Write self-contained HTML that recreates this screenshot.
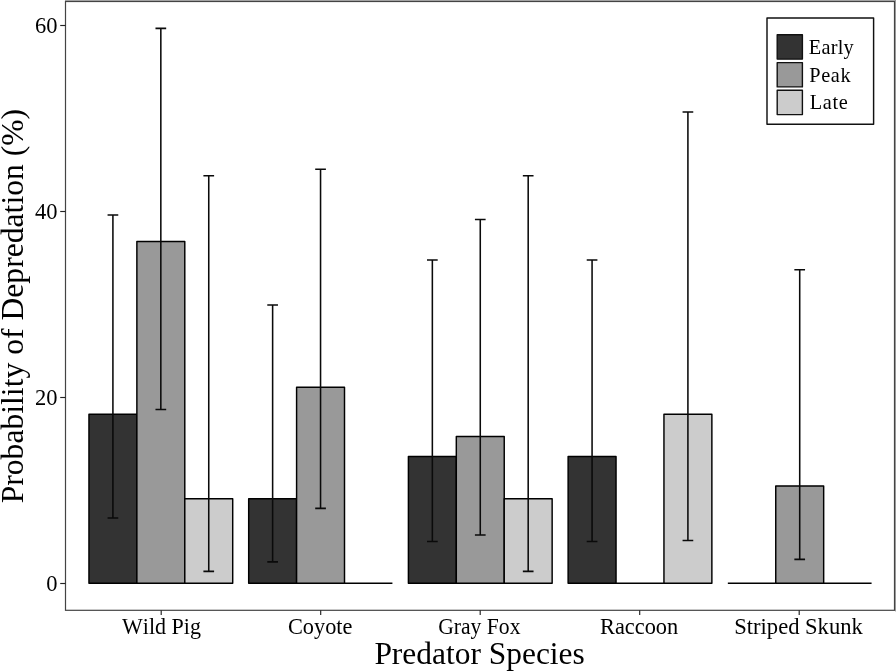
<!DOCTYPE html>
<html><head><meta charset="utf-8"><title>Probability of Depredation</title>
<style>
html,body{margin:0;padding:0;background:#fff;}
body{width:896px;height:671px;overflow:hidden;font-family:"Liberation Serif",serif;}
svg{display:block;will-change:transform;}
text{font-family:"Liberation Serif",serif;fill:#000;font-kerning:none;font-variant-ligatures:none;}
</style></head><body>
<svg width="896" height="671" viewBox="0 0 896 671">
<rect x="0" y="0" width="896" height="671" fill="#ffffff"/>

<rect x="88.96" y="414.21" width="47.92" height="169.09" fill="#333333" stroke="#000" stroke-width="1.45" stroke-linejoin="round"/>
<rect x="136.87" y="241.57" width="47.92" height="341.73" fill="#999999" stroke="#000" stroke-width="1.45" stroke-linejoin="round"/>
<rect x="184.79" y="498.75" width="47.92" height="84.55" fill="#cccccc" stroke="#000" stroke-width="1.45" stroke-linejoin="round"/>
<rect x="248.68" y="498.75" width="47.92" height="84.55" fill="#333333" stroke="#000" stroke-width="1.45" stroke-linejoin="round"/>
<rect x="296.59" y="387.21" width="47.92" height="196.09" fill="#999999" stroke="#000" stroke-width="1.45" stroke-linejoin="round"/>
<line x1="344.51" y1="583.30" x2="392.42" y2="583.30" stroke="#000" stroke-width="1.45"/>
<rect x="408.40" y="456.48" width="47.92" height="126.82" fill="#333333" stroke="#000" stroke-width="1.45" stroke-linejoin="round"/>
<rect x="456.31" y="436.46" width="47.92" height="146.84" fill="#999999" stroke="#000" stroke-width="1.45" stroke-linejoin="round"/>
<rect x="504.23" y="498.75" width="47.92" height="84.55" fill="#cccccc" stroke="#000" stroke-width="1.45" stroke-linejoin="round"/>
<rect x="568.12" y="456.48" width="47.92" height="126.82" fill="#333333" stroke="#000" stroke-width="1.45" stroke-linejoin="round"/>
<line x1="616.03" y1="583.30" x2="663.95" y2="583.30" stroke="#000" stroke-width="1.45"/>
<rect x="663.95" y="414.21" width="47.92" height="169.09" fill="#cccccc" stroke="#000" stroke-width="1.45" stroke-linejoin="round"/>
<line x1="727.84" y1="583.30" x2="775.75" y2="583.30" stroke="#000" stroke-width="1.45"/>
<rect x="775.75" y="485.91" width="47.92" height="97.39" fill="#999999" stroke="#000" stroke-width="1.45" stroke-linejoin="round"/>
<line x1="823.67" y1="583.30" x2="871.58" y2="583.30" stroke="#000" stroke-width="1.45"/>
<path d="M107.56 214.98H118.26M112.91 214.98V518.05M107.56 518.05H118.26" fill="none" stroke="#0a0a0a" stroke-width="1.55"/>
<path d="M155.48 28.35H166.18M160.83 28.35V409.41M155.48 409.41H166.18" fill="none" stroke="#0a0a0a" stroke-width="1.55"/>
<path d="M203.40 175.72H214.10M208.75 175.72V571.35M203.40 571.35H214.10" fill="none" stroke="#0a0a0a" stroke-width="1.55"/>
<path d="M267.28 304.93H277.98M272.63 304.93V561.86M267.28 561.86H277.98" fill="none" stroke="#0a0a0a" stroke-width="1.55"/>
<path d="M315.20 169.27H325.90M320.55 169.27V508.38M315.20 508.38H325.90" fill="none" stroke="#0a0a0a" stroke-width="1.55"/>
<path d="M427.00 260.03H437.70M432.35 260.03V541.59M427.00 541.59H437.70" fill="none" stroke="#0a0a0a" stroke-width="1.55"/>
<path d="M474.92 219.47H485.62M480.27 219.47V534.92M474.92 534.92H485.62" fill="none" stroke="#0a0a0a" stroke-width="1.55"/>
<path d="M522.84 175.72H533.54M528.19 175.72V571.35M522.84 571.35H533.54" fill="none" stroke="#0a0a0a" stroke-width="1.55"/>
<path d="M586.72 260.03H597.42M592.07 260.03V541.59M586.72 541.59H597.42" fill="none" stroke="#0a0a0a" stroke-width="1.55"/>
<path d="M682.56 112.06H693.26M687.91 112.06V540.49M682.56 540.49H693.26" fill="none" stroke="#0a0a0a" stroke-width="1.55"/>
<path d="M794.36 269.81H805.06M799.71 269.81V559.39M794.36 559.39H805.06" fill="none" stroke="#0a0a0a" stroke-width="1.55"/>
<rect x="65.5" y="1.5" width="829" height="608.8" fill="none" stroke="#444" stroke-width="1.2"/>
<line x1="60.2" y1="583.50" x2="65.5" y2="583.50" stroke="#222" stroke-width="1.15"/>
<text transform="translate(57.5,591.05) scale(1,1)" font-size="22.5" text-anchor="end">0</text>
<line x1="60.2" y1="397.50" x2="65.5" y2="397.50" stroke="#222" stroke-width="1.15"/>
<text transform="translate(57.5,405.05) scale(1,1)" font-size="22.5" text-anchor="end">20</text>
<line x1="60.2" y1="211.50" x2="65.5" y2="211.50" stroke="#222" stroke-width="1.15"/>
<text transform="translate(57.5,219.05) scale(1,1)" font-size="22.5" text-anchor="end">40</text>
<line x1="60.2" y1="25.50" x2="65.5" y2="25.50" stroke="#222" stroke-width="1.15"/>
<text transform="translate(57.5,33.05) scale(1,1)" font-size="22.5" text-anchor="end">60</text>
<line x1="161.20" y1="610.3" x2="161.20" y2="614.9" stroke="#222" stroke-width="1.15"/>
<text transform="translate(161.45,633.9) scale(0.979,1)" font-size="22.5" text-anchor="middle">Wild Pig</text>
<line x1="320.70" y1="610.3" x2="320.70" y2="614.9" stroke="#222" stroke-width="1.15"/>
<text transform="translate(320.20,633.9) scale(0.992,1)" font-size="22.5" text-anchor="middle">Coyote</text>
<line x1="480.20" y1="610.3" x2="480.20" y2="614.9" stroke="#222" stroke-width="1.15"/>
<text transform="translate(479.30,633.9) scale(0.962,1)" font-size="22.5" text-anchor="middle">Gray Fox</text>
<line x1="639.70" y1="610.3" x2="639.70" y2="614.9" stroke="#222" stroke-width="1.15"/>
<text transform="translate(639.10,633.9) scale(0.994,1)" font-size="22.5" text-anchor="middle">Raccoon</text>
<line x1="799.20" y1="610.3" x2="799.20" y2="614.9" stroke="#222" stroke-width="1.15"/>
<text transform="translate(798.50,633.9) scale(1.003,1)" font-size="22.5" text-anchor="middle">Striped Skunk</text>
<text x="479.6" y="664.0" font-size="31.45" text-anchor="middle">Predator Species</text>
<text transform="translate(23.2,306.1) rotate(-90)" font-size="31.65" text-anchor="middle">Probability of Depredation (%)</text>
<rect x="767.0" y="17.9" width="106.6" height="106.4" fill="#fff" stroke="#111" stroke-width="1.45" stroke-linejoin="round"/>
<rect x="777.2" y="34.80" width="25.2" height="24.3" fill="#333333" stroke="#111" stroke-width="1.4" stroke-linejoin="round"/>
<text x="808.80" y="54.00" font-size="20.3" letter-spacing="0.23">Early</text>
<rect x="777.2" y="62.60" width="25.2" height="24.3" fill="#999999" stroke="#111" stroke-width="1.4" stroke-linejoin="round"/>
<text x="809.30" y="82.40" font-size="20.3" letter-spacing="0.6">Peak</text>
<rect x="777.2" y="90.30" width="25.2" height="24.3" fill="#cccccc" stroke="#111" stroke-width="1.4" stroke-linejoin="round"/>
<text x="809.70" y="109.10" font-size="20.3" letter-spacing="0.67">Late</text>
<rect x="65" y="0" width="831" height="1" fill="#a2a2a2"/>
<rect x="895" y="0" width="1" height="611.4" fill="#999999"/>
</svg></body></html>
